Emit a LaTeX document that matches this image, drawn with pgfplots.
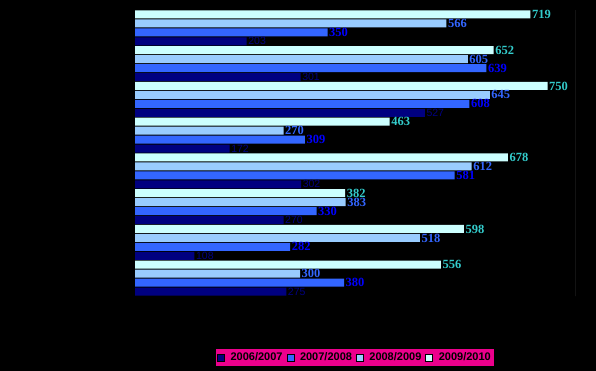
\documentclass[border=0pt]{standalone}
\usepackage{pgfplots}
\pgfplotsset{compat=1.18}
\usepackage{fontspec}
\setmainfont{Liberation Serif}
\newfontfamily\sansf{Liberation Sans}
\definecolor{c1}{HTML}{000080}
\definecolor{c2}{HTML}{3366FF}
\definecolor{c3}{HTML}{99CCFF}
\definecolor{c4}{HTML}{CCFFFF}
\definecolor{l4}{HTML}{33CCCC}
\definecolor{l3}{HTML}{3366FF}
\definecolor{l2}{HTML}{0000FF}
\definecolor{l1}{HTML}{000080}
\begin{document}
\begin{tikzpicture}
\fill[black] (0,0) rectangle (596pt,371pt);
\begin{axis}[
  at={(135pt,75pt)}, anchor=south west,
  scale only axis, width=440pt, height=286pt,
  xmin=0, xmax=800, ymin=0.5, ymax=8.5,
  y dir=reverse,
  xbar, bar width=0.225,
  axis line style={draw=none},
  xtick=\empty, ytick=\empty,
  /pgf/number format/assume math mode=true,
  nodes near coords,
  legend columns=4,
  legend style={at={(0.5,-0.215)}, anchor=center, fill=magenta, draw=none,
    font=\sansf\bfseries\fontsize{11}{11}\selectfont, inner sep=1.5pt,
    /tikz/every even column/.append style={column sep=2pt},
    /tikz/every odd column/.append style={column sep=4pt}},
  legend image code/.code={\draw[#1, draw=black] (0pt,-3.5pt) rectangle (7pt,3.5pt);},
]
\addplot[fill=c1, draw=none, bar shift=0.375, nodes near coords style={anchor=west, inner sep=1.5pt, text=l1, font=\sansf\fontsize{10.5}{10}\selectfont}] coordinates {(203,1) (301,2) (527,3) (172,4) (302,5) (270,6) (108,7) (275,8)};
\addplot[fill=c2, draw=none, bar shift=0.125, nodes near coords style={anchor=west, inner sep=1.5pt, text=l2, font=\fontsize{12.5}{12}\selectfont\bfseries}] coordinates {(350,1) (639,2) (608,3) (309,4) (581,5) (330,6) (282,7) (380,8)};
\addplot[fill=c3, draw=none, bar shift=-0.125, nodes near coords style={anchor=west, inner sep=1.5pt, text=l3, font=\fontsize{12.5}{12}\selectfont\bfseries}] coordinates {(566,1) (605,2) (645,3) (270,4) (612,5) (383,6) (518,7) (300,8)};
\addplot[fill=c4, draw=none, bar shift=-0.375, nodes near coords style={anchor=west, inner sep=1.5pt, text=l4, font=\fontsize{12.5}{12}\selectfont\bfseries}] coordinates {(719,1) (652,2) (750,3) (463,4) (678,5) (382,6) (598,7) (556,8)};
\legend{2006/2007,2007/2008,2008/2009,2009/2010}
\draw[gray!80, line width=1pt] (rel axis cs:1,0) -- (rel axis cs:1,1);
\end{axis}
\end{tikzpicture}
\end{document}
